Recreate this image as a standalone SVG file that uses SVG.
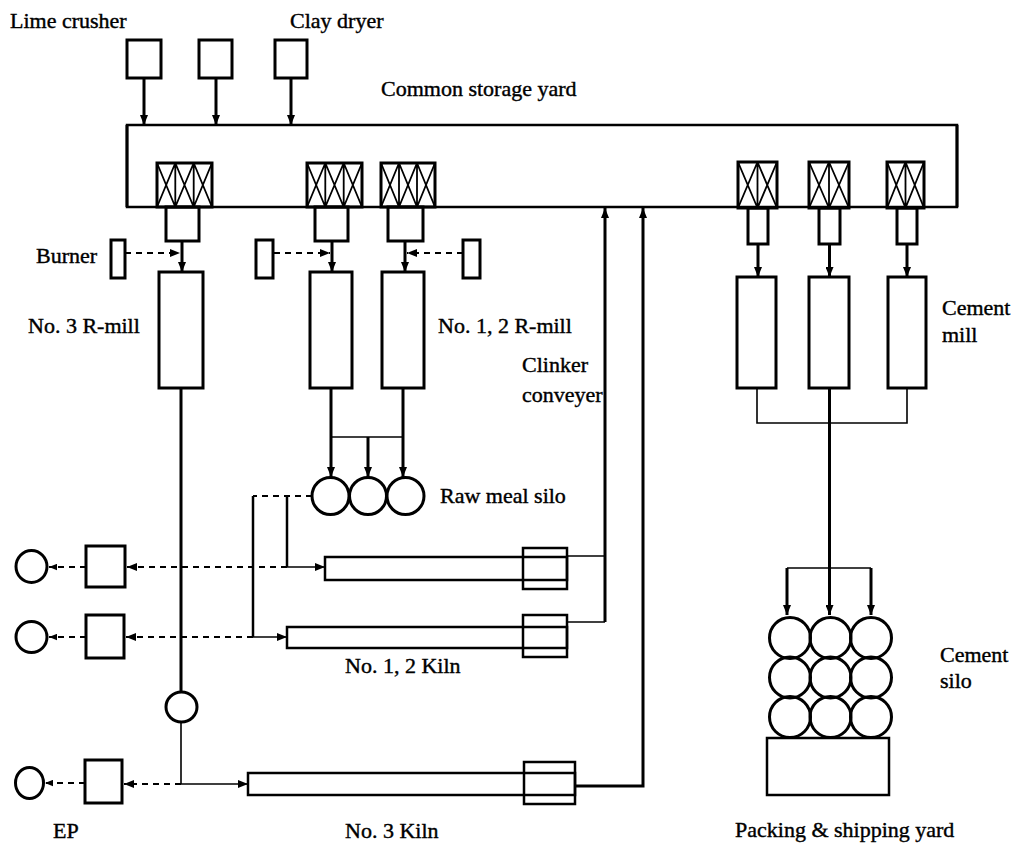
<svg xmlns="http://www.w3.org/2000/svg" width="1016" height="847" viewBox="0 0 1016 847">
<style>
.b{fill:none;stroke:#000;stroke-width:3}
.m{fill:none;stroke:#000;stroke-width:2.5}
.t{fill:none;stroke:#000;stroke-width:1.6}
.k{fill:none;stroke:#000;stroke-width:3}
.d{fill:none;stroke:#000;stroke-width:2;stroke-dasharray:6 5}
.x{fill:none;stroke:#000;stroke-width:1.8}
text{font-family:"Liberation Serif","Times New Roman",serif;font-size:22px;fill:#000;stroke:#000;stroke-width:0.4}
</style>
<defs>
<marker id="ah" viewBox="0 0 10 8" refX="10" refY="4" markerWidth="10" markerHeight="8" markerUnits="userSpaceOnUse" orient="auto"><path d="M0,0 L10,4 L0,8 z"/></marker>
<marker id="ahs" viewBox="0 0 10 8" refX="10" refY="4" markerWidth="8" markerHeight="7" markerUnits="userSpaceOnUse" orient="auto"><path d="M0,0 L10,4 L0,8 z"/></marker>
</defs>
<rect width="1016" height="847" fill="#fff"/>

<g id="lime-crusher"><rect class="b" x="127" y="40" width="34" height="38"/><text x="10" y="28">Lime crusher</text></g>
<g id="feeder-box-2"><rect class="b" x="199" y="40" width="33" height="38"/></g>
<g id="clay-dryer"><rect class="b" x="275" y="40" width="32" height="38"/><text x="290" y="28">Clay dryer</text></g>

<g id="storage-yard">
<rect class="m" x="127" y="125" width="830" height="82"/>
<path class="b" d="M127,125 V207 M957,125 V207"/>
<text x="381" y="96">Common storage yard</text>
<g id="hopper-1"><rect class="b" x="157" y="163" width="55" height="44"/><path class="x" d="M175.3,163V207M193.7,163V207M157,163L175.3,207M175.3,163L157,207M175.3,163L193.7,207M193.7,163L175.3,207M193.7,163L212,207M212,163L193.7,207"/></g>
<g id="hopper-2"><rect class="b" x="307" y="163" width="55" height="44"/><path class="x" d="M325.3,163V207M343.7,163V207M307,163L325.3,207M325.3,163L307,207M325.3,163L343.7,207M343.7,163L325.3,207M343.7,163L362,207M362,163L343.7,207"/></g>
<g id="hopper-3"><rect class="b" x="381" y="163" width="54" height="44"/><path class="x" d="M399,163V207M417,163V207M381,163L399,207M399,163L381,207M399,163L417,207M417,163L399,207M417,163L435,207M435,163L417,207"/></g>
<g id="hopper-4"><rect class="b" x="738" y="162" width="39" height="46"/><path class="x" d="M757.5,162V208M738,162L757.5,208M757.5,162L738,208M757.5,162L777,208M777,162L757.5,208"/></g>
<g id="hopper-5"><rect class="b" x="809" y="162" width="40" height="46"/><path class="x" d="M829,162V208M809,162L829,208M829,162L809,208M829,162L849,208M849,162L829,208"/></g>
<g id="hopper-6"><rect class="b" x="887" y="162" width="37" height="46"/><path class="x" d="M905.5,162V208M887,162L905.5,208M905.5,162L887,208M905.5,162L924,208M924,162L905.5,208"/></g>
</g>

<g id="feeders">
<rect class="b" x="166" y="207" width="33" height="34"/>
<rect class="b" x="315" y="207" width="33" height="34"/>
<rect class="b" x="388" y="207" width="35" height="34"/>
<rect class="b" x="748" y="208" width="20" height="36"/>
<rect class="b" x="819" y="208" width="21" height="36"/>
<rect class="b" x="897" y="208" width="20" height="36"/>
</g>

<g id="burners">
<rect class="b" x="111" y="240" width="14" height="38"/>
<rect class="b" x="256" y="240" width="17" height="38"/>
<rect class="b" x="463" y="240" width="17" height="38"/>
<text x="36" y="263">Burner</text>
</g>

<g id="no3-r-mill"><rect class="b" x="159" y="272" width="44" height="116"/><text x="28" y="333">No. 3 R-mill</text></g>
<g id="no12-r-mill"><rect class="b" x="310" y="272" width="42" height="116"/><rect class="b" x="382" y="272" width="42" height="116"/><text x="438" y="333">No. 1, 2 R-mill</text></g>
<g id="cement-mill">
<rect class="b" x="737" y="277" width="39" height="111"/>
<rect class="b" x="809" y="277" width="40" height="111"/>
<rect class="b" x="888" y="277" width="38" height="111"/>
<text x="942" y="315">Cement</text><text x="942" y="342">mill</text>
</g>

<g id="clinker-conveyer-label"><text x="522" y="372">Clinker</text><text x="522" y="402">conveyer</text></g>

<g id="raw-meal-silo">
<circle class="b" cx="330.5" cy="496" r="18.5"/>
<circle class="b" cx="368" cy="496" r="18.5"/>
<circle class="b" cx="405.5" cy="496" r="18.5"/>
<text x="440" y="503">Raw meal silo</text>
</g>

<g id="no1-kiln"><rect class="m" x="325" y="557" width="242" height="23"/><rect class="m" x="523" y="548" width="44" height="41"/></g>
<g id="no2-kiln"><rect class="m" x="287" y="627" width="280" height="21"/><rect class="m" x="523" y="615" width="44" height="42"/><text x="345" y="673">No. 1, 2 Kiln</text></g>
<g id="no3-kiln"><rect class="m" x="248" y="773" width="327" height="22"/><rect class="m" x="524" y="762" width="51" height="42"/><text x="345" y="838">No. 3 Kiln</text></g>

<g id="ep-1"><rect class="b" x="86" y="546" width="39" height="41"/><ellipse class="b" cx="31.5" cy="566.5" rx="15.5" ry="16"/></g>
<g id="ep-2"><rect class="b" x="86" y="615" width="38" height="43"/><ellipse class="b" cx="31.5" cy="637" rx="15.5" ry="15.5"/></g>
<g id="ep-3"><rect class="b" x="85" y="760" width="37" height="43"/><ellipse class="b" cx="29.5" cy="783" rx="14" ry="15.5"/><text x="53" y="838">EP</text></g>

<g id="small-silo"><ellipse class="b" cx="181.5" cy="707" rx="15.5" ry="15"/></g>

<g id="cement-silo">
<circle class="b" cx="790" cy="638" r="20.5"/><circle class="b" cx="830.5" cy="638" r="20.5"/><circle class="b" cx="871" cy="638" r="20.5"/>
<circle class="b" cx="790" cy="677.5" r="20.5"/><circle class="b" cx="830.5" cy="677.5" r="20.5"/><circle class="b" cx="871" cy="677.5" r="20.5"/>
<circle class="b" cx="790" cy="717" r="20.5"/><circle class="b" cx="830.5" cy="717" r="20.5"/><circle class="b" cx="871" cy="717" r="20.5"/>
<text x="940" y="662">Cement</text><text x="940" y="688">silo</text>
</g>

<g id="packing-shipping-yard"><rect class="m" x="767" y="738" width="122" height="57"/><text x="735" y="837">Packing &amp; shipping yard</text></g>

<g id="connectors">
<path class="k" d="M144,78V125" marker-end="url(#ah)"/>
<path class="k" d="M216,78V125" marker-end="url(#ah)"/>
<path class="k" d="M291,78V125" marker-end="url(#ah)"/>
<path class="k" d="M182,241V272" marker-end="url(#ah)"/>
<path class="k" d="M332,241V272" marker-end="url(#ah)"/>
<path class="k" d="M405,241V272" marker-end="url(#ah)"/>
<path class="d" d="M125,253H180" marker-end="url(#ah)"/>
<path class="d" d="M274,253H330" marker-end="url(#ah)"/>
<path class="d" d="M463,253H407" marker-end="url(#ah)"/>
<path class="k" d="M758,244V277" marker-end="url(#ah)"/>
<path class="k" d="M829.5,244V277" marker-end="url(#ah)"/>
<path class="k" d="M907,244V277" marker-end="url(#ah)"/>
<path class="t" d="M757,388V423H907V388"/>
<path class="k" d="M829.5,388V615" marker-end="url(#ah)"/>
<path class="t" d="M787,568H871"/>
<path class="k" d="M787,568V615" marker-end="url(#ah)"/>
<path class="k" d="M871,568V615" marker-end="url(#ah)"/>
<path class="k" d="M331,388V477" marker-end="url(#ah)"/>
<path class="k" d="M403,388V477" marker-end="url(#ah)"/>
<path class="t" d="M331,437H403"/>
<path class="k" d="M368,437V477" marker-end="url(#ah)"/>
<path class="d" d="M312,496H253"/>
<path class="m" d="M253,496V637"/>
<path class="t" d="M253,637H287" marker-end="url(#ah)"/>
<path class="m" d="M287,496V567"/>
<path class="t" d="M287,567H325" marker-end="url(#ah)"/>
<path class="d" d="M287,567H127" marker-end="url(#ah)"/>
<path class="d" d="M253,637H126" marker-end="url(#ah)"/>
<path class="d" d="M181,784H124" marker-end="url(#ah)"/>
<path class="d" d="M86,567H49" marker-end="url(#ahs)"/>
<path class="d" d="M86,637H49" marker-end="url(#ahs)"/>
<path class="d" d="M85,783H45" marker-end="url(#ahs)"/>
<path class="k" d="M181,388V692"/>
<path class="t" d="M181,722V784H248" marker-end="url(#ah)"/>
<path class="t" d="M567,556H605"/>
<path class="t" d="M567,622H605"/>
<path class="k" d="M605,622V208" marker-end="url(#ah)"/>
<path class="k" d="M575,786H643V208" marker-end="url(#ah)"/>
</g>
</svg>
